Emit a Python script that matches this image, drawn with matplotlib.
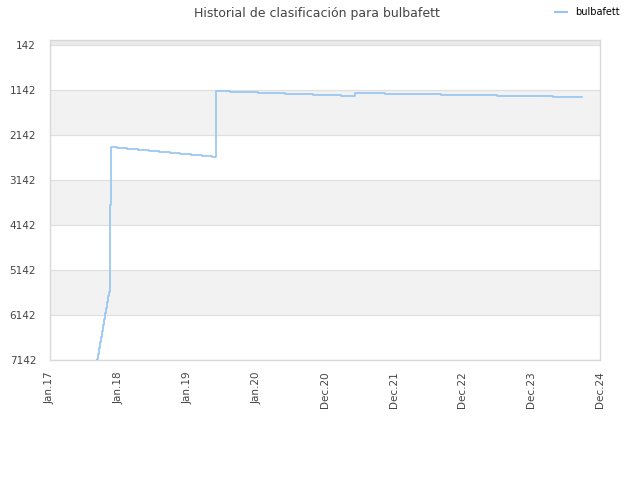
import numpy as np
import matplotlib
matplotlib.use("Agg")
import matplotlib.pyplot as plt
from matplotlib.lines import Line2D

# --- données (x en années décimales, y = rang) ---
years = [2017.668, 2017.682, 2017.696, 2017.711, 2017.725, 2017.740, 2017.754,
         2017.768, 2017.783, 2017.797, 2017.812, 2017.826, 2017.840, 2017.855,
         2017.862, 2017.864, 2017.866, 2017.868, 2017.870, 2017.875, 2017.962,
         2018.115, 2018.269, 2018.418, 2018.572, 2018.726, 2018.875, 2019.029,
         2019.182, 2019.332, 2019.390, 2019.591, 2019.999, 2020.384, 2020.792,
         2021.196, 2021.394, 2021.816, 2022.624, 2023.431, 2024.239, 2024.657]
ranks = [7260, 7130, 7000, 6870, 6750, 6620, 6490,
         6360, 6230, 6100, 5980, 5850, 5720, 5620,
         5586, 5100, 4500, 4000, 3700, 2402, 2424,
         2446, 2469, 2498, 2520, 2542, 2564, 2586,
         2609, 2631, 1158, 1180, 1202, 1224, 1247,
         1269, 1202, 1224, 1247, 1269, 1291, 1291]

tick_labels = ["Jan.17", "Jan.18", "Jan.19", "Jan.20", "Dec.20",
               "Dec.21", "Dec.22", "Dec.23", "Dec.24"]
y_ticks = [142, 1142, 2142, 3142, 4142, 5142, 6142, 7142]

x_min, x_max = 2017.0, 2024.917
y_top, y_bottom = 31, 7142
line_color = "#95c5f3"

fig = plt.figure(figsize=(6.4, 4.8), dpi=100)
ax = fig.add_axes([50 / 640, 120 / 480, 550 / 640, 320 / 480])

# bandes alternées
ax.axhspan(y_top, 142, color="#ebebeb", zorder=0, lw=0)
for i in range(len(y_ticks) - 1):
    if i % 2 == 1:
        ax.axhspan(y_ticks[i], y_ticks[i + 1], color="#f2f2f2", zorder=0, lw=0)
for yt in y_ticks:
    ax.axhline(yt, color="#e0e0e0", lw=0.9, zorder=1)

ax.plot(years, ranks, drawstyle="steps-post", color=line_color, lw=1.2, zorder=3)

ax.set_xlim(x_min, x_max)
ax.set_ylim(y_bottom, y_top)
ax.set_xticks(np.linspace(x_min, x_max, len(tick_labels)))
ax.set_xticklabels(tick_labels, rotation=90)
ax.set_yticks(y_ticks)
ax.set_yticklabels([str(v) for v in y_ticks])
ax.tick_params(length=0, labelsize=7.5, colors="#444444", pad=10)
ax.tick_params(axis="x", pad=8)

for sp in ax.spines.values():
    sp.set_color("#d9d9d9")
    sp.set_linewidth(1)

fig.text(0.495, 0.972, "Historial de clasificación para bulbafett",
         ha="center", va="center", fontsize=9, color="#444444")

handle = Line2D([], [], color=line_color, lw=1.5)
fig.legend([handle], ["bulbafett"], loc="center", bbox_to_anchor=(0.918, 0.974),
           frameon=False, fontsize=7, handlelength=1.2, handletextpad=0.8)

fig.savefig("out.png", dpi=100)
